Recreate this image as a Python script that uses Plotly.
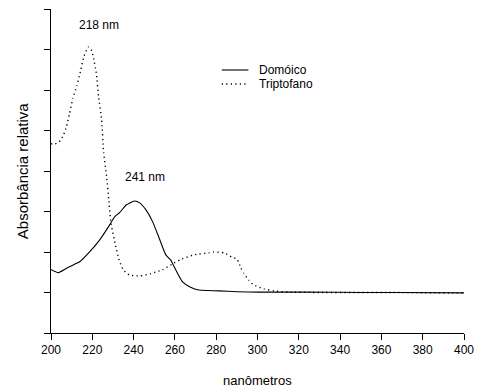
import plotly.graph_objects as go

# Domóico (solid)
dom_nm = [200.0, 203.5, 207.5, 211.5, 213.9, 218.8, 223.6, 228.4, 230.8, 233.2,
          236.4, 240.4, 242.8, 246.0, 249.2, 252.4, 255.6, 258.0, 260.4, 263.6,
          267.6, 271.6, 276.0, 281.3, 290.0, 300.5, 324.5, 350.0, 367.8, 400.0]
dom_abs = [1.57, 1.49, 1.60, 1.70, 1.76, 2.01, 2.30, 2.67, 2.87, 2.97,
           3.16, 3.26, 3.22, 3.04, 2.75, 2.34, 1.93, 1.80, 1.56, 1.27,
           1.13, 1.06, 1.05, 1.04, 1.02, 1.01, 1.01, 1.00, 1.00, 0.99]

# Triptofano (dotted)
tri_nm = [200.0, 202.0, 204.0, 206.0, 207.5, 209.0, 210.6, 212.5, 214.0, 216.0,
          218.0, 219.5, 220.5, 222.0, 223.0, 224.5, 225.5, 227.0, 228.0, 229.0,
          231.0, 233.0, 235.0, 238.0, 243.0, 248.0, 251.0, 254.0, 259.6, 263.5,
          269.2, 276.4, 278.8, 283.7, 287.5, 290.0, 291.0, 292.0, 293.3, 295.7,
          298.0, 303.0, 308.0, 315.0, 330.0, 360.0, 400.0]
tri_abs = [4.67, 4.67, 4.72, 4.88, 5.10, 5.42, 5.80, 6.10, 6.40, 6.84,
           7.06, 7.00, 6.81, 6.40, 5.85, 5.28, 4.45, 3.83, 3.28, 2.72,
           2.22, 1.80, 1.56, 1.43, 1.41, 1.46, 1.51, 1.56, 1.73, 1.83,
           1.93, 1.98, 2.00, 1.98, 1.88, 1.83, 1.73, 1.60, 1.48, 1.31,
           1.19, 1.09, 1.04, 1.01, 1.00, 1.00, 0.99]

x_ticks = [200, 220, 240, 260, 280, 300, 320, 340, 360, 380, 400]
y_ticks = [0, 1, 2, 3, 4, 5, 6, 7, 8]
series_names = ["Domóico", "Triptofano"]
peak_labels = ["218 nm", "241 nm"]

FONT = "Liberation Sans, Arial, sans-serif"
DOT = "1.2px,3.3px"

# legend rows (pixel rows converted to paper fractions of the 324 px plot height)
LEG_Y1 = (333 - 70) / 324
LEG_Y2 = (333 - 84) / 324

fig = go.Figure()
fig.add_trace(go.Scatter(x=dom_nm, y=dom_abs, mode="lines", name=series_names[0],
                         line=dict(color="black", width=1.1, shape="spline", smoothing=0.5),
                         showlegend=False))
fig.add_trace(go.Scatter(x=tri_nm, y=tri_abs, mode="lines", name=series_names[1],
                         line=dict(color="black", width=1.4, dash=DOT, shape="spline",
                                   smoothing=0.4),
                         showlegend=False))

# peak annotations
fig.add_annotation(x=223.1, y=7.60, text=peak_labels[0], showarrow=False,
                   font=dict(family=FONT, size=12, color="black"))
fig.add_annotation(x=245.7, y=3.85, text=peak_labels[1], showarrow=False,
                   font=dict(family=FONT, size=12, color="black"))

# manual legend
fig.add_shape(type="line", xref="paper", yref="paper", x0=0.4135, x1=0.478,
              y0=LEG_Y1, y1=LEG_Y1, line=dict(color="black", width=1.1))
fig.add_shape(type="line", xref="paper", yref="paper", x0=0.4135, x1=0.478,
              y0=LEG_Y2, y1=LEG_Y2, line=dict(color="black", width=1.4, dash=DOT))
fig.add_annotation(xref="paper", yref="paper", x=0.5, y=LEG_Y1, xanchor="left",
                   yanchor="middle", text=series_names[0], showarrow=False,
                   borderpad=0,
                   font=dict(family=FONT, size=12, color="black"))
fig.add_annotation(xref="paper", yref="paper", x=0.5, y=LEG_Y2, xanchor="left",
                   yanchor="middle", text=series_names[1], showarrow=False,
                   borderpad=0,
                   font=dict(family=FONT, size=12, color="black"))

# axis titles
fig.add_annotation(xref="paper", yref="paper", x=(22 - 51) / 416, y=0.5,
                   text="Absorbância relativa", textangle=-90, showarrow=False,
                   xanchor="center", yanchor="middle",
                   font=dict(family=FONT, size=15, color="black"))
fig.add_annotation(xref="paper", yref="paper", x=0.5, y=(333 - 380) / 324,
                   text="nanômetros", showarrow=False, xanchor="center", yanchor="middle",
                   font=dict(family=FONT, size=13, color="black"))

fig.update_xaxes(range=[200, 400], tickvals=x_ticks, ticktext=[str(v) for v in x_ticks],
                 showgrid=False, zeroline=False, showline=True, linecolor="black",
                 linewidth=1, ticks="outside", ticklen=6, tickcolor="black", tickwidth=1,
                 tickfont=dict(family=FONT, size=12, color="black"))
fig.update_yaxes(range=[0, 8], tickvals=y_ticks, showticklabels=False,
                 showgrid=False, zeroline=False, showline=True, linecolor="black",
                 linewidth=1, ticks="outside", ticklen=6, tickcolor="black", tickwidth=1)

fig.update_layout(width=483, height=387, margin=dict(l=51, r=16, t=9, b=54),
                  plot_bgcolor="white", paper_bgcolor="white", showlegend=False,
                  font=dict(family=FONT, size=12, color="black"))

fig.write_html("out.html", config={"displayModeBar": False},
               post_script="document.body.style.margin='0';document.body.style.padding='0';"
                           "document.body.style.overflow='hidden';")
